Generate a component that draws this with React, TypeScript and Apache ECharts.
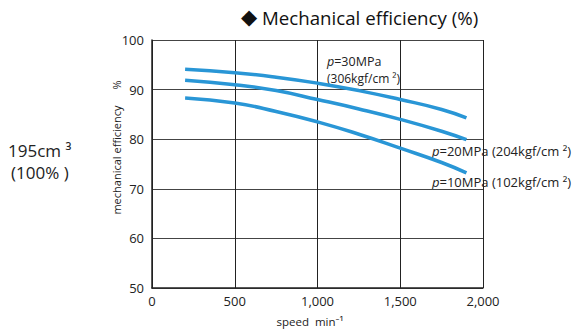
import React, { useEffect, useRef } from "react";
import * as echarts from "echarts";

const speeds = [200, 500, 750, 1000, 1250, 1500, 1750, 1900];
const p30 = [94.1, 93.4, 92.5, 91.3, 89.8, 88.0, 86.0, 84.3];
const p20 = [91.9, 91.0, 89.8, 88.0, 86.1, 84.0, 81.6, 79.9];
const p10 = [88.3, 87.3, 85.6, 83.5, 81.0, 78.2, 75.3, 73.2];
const xTicks = [0, 500, 1000, 1500, 2000];
const yTicks = [50, 60, 70, 80, 90, 100];

const FONT = "'Open Sans', 'Noto Sans', sans-serif";
const BLUE = "#2996d6";

function pairs(vals: number[]) {
  return speeds.map((s, i) => [s, vals[i]]);
}

export default function App() {
  const ref = useRef<HTMLDivElement>(null);
  useEffect(() => {
    if (!ref.current) return;
    const chart = echarts.init(ref.current, undefined, { renderer: "svg" });
    const lineSeries = (name: string, vals: number[]) => ({
      name,
      type: "line",
      data: pairs(vals),
      showSymbol: false,
      smooth: 0.5,
      lineStyle: { color: BLUE, width: 3.5 },
      silent: true,
    });
    const richP = (size: number) => ({
      i: { fontStyle: "italic", fontSize: size, fontFamily: FONT, fill: "#222" },
    });
    chart.setOption({
      animation: false,
      grid: { left: 152, right: 104, top: 40, bottom: 43 },
      xAxis: {
        type: "value",
        min: xTicks[0],
        max: xTicks[xTicks.length - 1],
        interval: 500,
        axisLine: { show: true, lineStyle: { color: "#222", width: 1.5 } },
        axisTick: { show: false },
        splitLine: { show: true, lineStyle: { color: "#222", width: 1 } },
        axisLabel: {
          fontSize: 13,
          fontFamily: FONT,
          color: "#222",
          margin: 6,
          formatter: (v: number) => v.toLocaleString("en-US"),
        },
      },
      yAxis: {
        type: "value",
        min: yTicks[0],
        max: yTicks[yTicks.length - 1],
        interval: 10,
        axisLine: { show: true, lineStyle: { color: "#222", width: 1.5 } },
        axisTick: { show: false },
        splitLine: { show: true, lineStyle: { color: "#444", width: 1 } },
        axisLabel: { fontSize: 13, fontFamily: FONT, color: "#222", margin: 8 },
      },
      series: [lineSeries("p30", p30), lineSeries("p20", p20), lineSeries("p10", p10)],
      graphic: [
        {
          type: "text",
          x: 241,
          y: 17,
          style: { text: "◆", fontSize: 21, fontFamily: "'DejaVu Sans', sans-serif", fill: "#111", verticalAlign: "middle" },
        },
        {
          type: "text",
          x: 262,
          y: 17,
          style: {
            text: "Mechanical efficiency (%)",
            fontSize: 18.7,
            fontFamily: FONT,
            fill: "#111",
            verticalAlign: "middle",
          },
        },
        {
          type: "text",
          x: 116,
          y: 160,
          rotation: Math.PI / 2,
          style: {
            text: "mechanical efficiency",
            fontSize: 11,
            fontFamily: FONT,
            fill: "#222",
            align: "center",
            verticalAlign: "middle",
          },
        },
        {
          type: "text",
          x: 116,
          y: 85,
          rotation: Math.PI / 2,
          style: { text: "%", fontSize: 11, fontFamily: FONT, fill: "#222", align: "center", verticalAlign: "middle" },
        },
        {
          type: "text",
          x: 310,
          y: 321,
          style: {
            text: "speed  min⁻¹",
            fontSize: 11.5,
            fontFamily: FONT,
            fill: "#222",
            align: "center",
            verticalAlign: "middle",
          },
        },
        {
          type: "text",
          x: 8,
          y: 150,
          style: { text: "195cm ³", fontSize: 17, fontFamily: FONT, fill: "#222", verticalAlign: "middle" },
        },
        {
          type: "text",
          x: 11,
          y: 172,
          style: { text: "(100% )", fontSize: 17, fontFamily: FONT, fill: "#222", verticalAlign: "middle" },
        },
        {
          type: "text",
          x: 327,
          y: 61,
          style: {
            text: "{i|p}=30MPa",
            rich: richP(12.5),
            fontSize: 12.5,
            fontFamily: FONT,
            fill: "#222",
            verticalAlign: "middle",
          },
        },
        {
          type: "text",
          x: 327,
          y: 78,
          style: { text: "(306kgf/cm ²)", fontSize: 12, fontFamily: FONT, fill: "#222", verticalAlign: "middle" },
        },
        {
          type: "text",
          x: 432,
          y: 151,
          style: {
            text: "{i|p}=20MPa (204kgf/cm ²)",
            rich: richP(13),
            fontSize: 13,
            fontFamily: FONT,
            fill: "#222",
            verticalAlign: "middle",
          },
        },
        {
          type: "text",
          x: 432,
          y: 182,
          style: {
            text: "{i|p}=10MPa (102kgf/cm ²)",
            rich: richP(13),
            fontSize: 13,
            fontFamily: FONT,
            fill: "#222",
            verticalAlign: "middle",
          },
        },
      ],
    });
    return () => chart.dispose();
  }, []);
  return (
    <div
      ref={ref}
      style={{ position: "fixed", left: 0, top: 0, width: 587, height: 331, background: "#fff" }}
    />
  );
}
